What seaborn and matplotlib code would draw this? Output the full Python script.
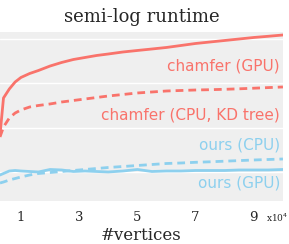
import numpy as np
import pandas as pd
import matplotlib
matplotlib.use("Agg")
import matplotlib.pyplot as plt
import seaborn as sns

# ---- data (runtime in seconds) ----
vertices = [2800, 4000, 6000, 8000, 10000, 13000, 16000, 20000, 24000, 28000,
            32000, 36000, 40000, 45000, 50000, 55000, 60000, 65000, 70000,
            75000, 80000, 85000, 90000, 95000, 100000]

chamfer_gpu = [0.00689, 0.0469, 0.0748, 0.1075, 0.136, 0.167, 0.195, 0.246,
               0.296, 0.345, 0.383, 0.425, 0.459, 0.509, 0.551, 0.595, 0.644,
               0.714, 0.792, 0.856, 0.925, 1.0, 1.081, 1.151, 1.230]
chamfer_cpu = [0.00621, 0.01042, 0.01663, 0.0215, 0.0252, 0.0294, 0.0318,
               0.0344, 0.0381, 0.0412, 0.0445, 0.0481, 0.0520, 0.0562, 0.0608,
               0.0640, 0.0674, 0.0692, 0.0710, 0.0721, 0.0736, 0.0755, 0.0779,
               0.0804, 0.0830]
ours_gpu = [0.000865, 0.000935, 0.001064, 0.001092, 0.001064, 0.001037,
            0.001011, 0.001151, 0.001122, 0.001037, 0.001064, 0.001037,
            0.001011, 0.001064, 0.001151, 0.001037, 0.001064, 0.001064,
            0.001092, 0.001092, 0.001092, 0.001122, 0.001122, 0.001122,
            0.001151]
ours_cpu = [0.000571, 0.000601, 0.000667, 0.000721, 0.000780, 0.000865,
            0.000935, 0.000984, 0.001037, 0.001092, 0.001151, 0.001211,
            0.001276, 0.001343, 0.001415, 0.001490, 0.001570, 0.001611,
            0.001671, 0.001714, 0.001770, 0.001825, 0.001883, 0.001932,
            0.001983]

xtick_vals = [10000, 30000, 50000, 70000, 90000]
xtick_labels = ["1", "3", "5", "7", "9"]

RED = "#f9736b"
BLUE = "#8dd0ee"

sns.set_theme(style="darkgrid", rc={
    "axes.facecolor": "#efefef",
    "grid.color": "white",
    "grid.linewidth": 1.0,
})
plt.rcParams["font.family"] = ["DejaVu Sans"]

fig = plt.figure(figsize=(2.89, 2.44), dpi=100)
ax = fig.add_axes([0.0, 0.176, 0.979, 0.693])

series = [
    (chamfer_gpu, RED, "-"),
    (chamfer_cpu, RED, (0, (2.8, 1.8))),
    (ours_cpu, BLUE, (0, (2.8, 1.8))),
    (ours_gpu, BLUE, "-"),
]
for vals, col, ls in series:
    sns.lineplot(x=vertices, y=vals, ax=ax, color=col, linewidth=2.0,
                 linestyle=ls)

ax.set_yscale("log")
ax.set_ylim(10 ** -3.65, 10 ** 0.158)
ax.set_xlim(2800, 100000)
ax.yaxis.set_major_locator(matplotlib.ticker.LogLocator(base=10, numticks=10))
ax.yaxis.set_minor_locator(matplotlib.ticker.NullLocator())
ax.set_yticklabels([])
ax.grid(False, axis="x")
ax.grid(True, axis="y", which="major")
ax.set_xticks(xtick_vals)
ax.set_xticklabels(xtick_labels, family="DejaVu Serif", fontsize=9.5)
ax.tick_params(length=0, pad=7)
for s in ax.spines.values():
    s.set_visible(False)

ax.text(0.94, -0.1, "x10$^4$", transform=ax.transAxes, ha="left", va="center",
        fontsize=6.5, family="DejaVu Serif")

ax.set_title("semi-log runtime", family="DejaVu Serif", fontsize=13,
             pad=7)
ax.set_xlabel("#vertices", family="DejaVu Serif", fontsize=12, labelpad=2)

lbl = dict(ha="right", va="center", fontsize=11, transform=ax.transAxes)
x_r = 0.99
def ypos(py):
    return (201 - py) / 169.0
ax.text(x_r, ypos(66), "chamfer (GPU)", color=RED, **lbl)
ax.text(x_r, ypos(115), "chamfer (CPU, KD tree)", color=RED, **lbl)
ax.text(x_r, ypos(145), "ours (CPU)", color=BLUE, **lbl)
ax.text(x_r, ypos(183), "ours (GPU)", color=BLUE, **lbl)

fig.savefig("out.png", dpi=100)
